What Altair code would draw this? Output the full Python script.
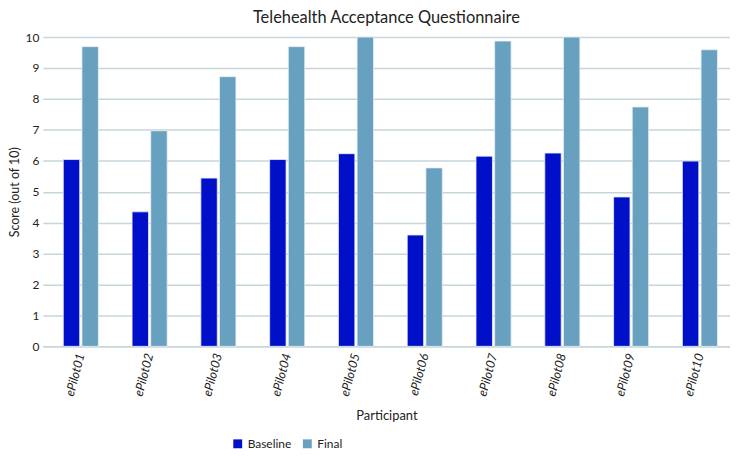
import altair as alt
import pandas as pd

participants = ["ePilot01", "ePilot02", "ePilot03", "ePilot04", "ePilot05",
                "ePilot06", "ePilot07", "ePilot08", "ePilot09", "ePilot10"]
baseline = [6.04, 4.35, 5.44, 6.04, 6.23, 3.60, 6.15, 6.25, 4.83, 5.99]
final = [9.69, 6.97, 8.72, 9.69, 10.0, 5.77, 9.87, 10.0, 7.74, 9.59]
series = ["Baseline", "Final"]
colors = ["#0010C8", "#68A0C0"]
y_ticks = [0, 1, 2, 3, 4, 5, 6, 7, 8, 9, 10]

rows = []
for p, b, f in zip(participants, baseline, final):
    rows.append({"Participant": p, "Series": "Baseline", "Score": b})
    rows.append({"Participant": p, "Series": "Final", "Score": f})
df = pd.DataFrame(rows)

FONT = "Lato"

chart = alt.Chart(df).mark_bar(stroke="#e8eef2", strokeWidth=0.8).encode(
    x=alt.X("Participant:N", sort=participants,
            scale=alt.Scale(paddingInner=0.49, paddingOuter=0.24, align=0.62),
            axis=alt.Axis(title="Participant", labelAngle=-75, labelFontStyle="italic",
                          labelFontSize=12.5, labelColor="#222", labelFont=FONT,
                          titleFont=FONT, titleFontSize=13, titleFontWeight="normal",
                          titleColor="#222", titlePadding=13, ticks=False,
                          domainColor="#c5d5da", domainWidth=1.5, labelPadding=7)),
    xOffset=alt.XOffset("Series:N", sort=series, scale=alt.Scale(paddingInner=0.12)),
    y=alt.Y("Score:Q", scale=alt.Scale(domain=[0, 10]),
            axis=alt.Axis(title="Score (out of 10)", values=y_ticks, labelOverlap=False,
                          labelFont=FONT, labelFontSize=12, labelColor="#222",
                          titleFont=FONT, titleFontSize=12.5, titleFontWeight="normal",
                          titleColor="#222", ticks=False, domain=False, labelPadding=4,
                          gridColor="#c5d5da", gridWidth=1.5, titlePadding=4)),
    color=alt.Color("Series:N", sort=series,
                    scale=alt.Scale(domain=series, range=colors),
                    legend=alt.Legend(title=None, orient="none", direction="horizontal",
                                      legendX=190, legendY=403,
                                      symbolType="square", symbolSize=80,
                                      labelFont=FONT, labelFontSize=12, labelColor="#222",
                                      columnPadding=10, symbolStrokeWidth=0)),
).properties(
    width=691,
    height=311,
    title=alt.Title("Telehealth Acceptance Questionnaire", font=FONT, fontSize=16.5,
                    fontWeight="normal", color="#222", offset=5),
    padding={"left": 0, "right": 0, "top": 0, "bottom": 0},
).configure_view(stroke=None)

chart.save("out.html", embed_options={"renderer": "svg", "actions": False})
